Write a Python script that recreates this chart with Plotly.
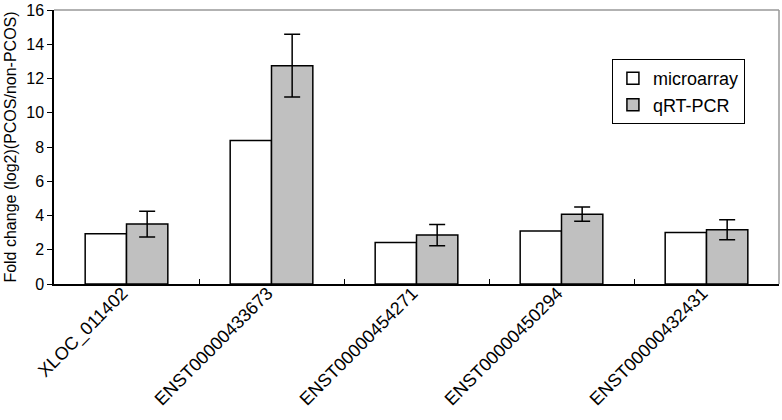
import plotly.graph_objects as go

categories = ["XLOC_011402", "ENST00000433673", "ENST00000454271", "ENST00000450294", "ENST00000432431"]
microarray = [2.94, 8.38, 2.43, 3.09, 3.01]
qrtpcr = [3.50, 12.75, 2.86, 4.08, 3.17]
qrtpcr_err = [0.75, 1.83, 0.62, 0.41, 0.58]

font_family = "Liberation Sans, Arial, sans-serif"

fig = go.Figure()
fig.add_trace(go.Bar(
    x=categories, y=microarray, name="microarray",
    marker=dict(color="white", line=dict(color="black", width=1.5)),
))
fig.add_trace(go.Bar(
    x=categories, y=qrtpcr, name="qRT-PCR",
    marker=dict(color="#c0c0c0", line=dict(color="black", width=1.5)),
    error_y=dict(type="data", array=qrtpcr_err, visible=True, color="black", thickness=1.5, width=8),
))

fig.update_layout(
    width=782, height=420,
    margin=dict(l=54, r=3, t=10, b=136, autoexpand=False),
    paper_bgcolor="white", plot_bgcolor="white",
    barmode="group", bargap=0.43, bargroupgap=0,
    font=dict(family=font_family, color="black", size=16),
    showlegend=True,
    legend=dict(
        x=0.953, y=0.821, xanchor="right", yanchor="top",
        bordercolor="black", borderwidth=1, bgcolor="white",
        font=dict(size=18, family=font_family),
        itemwidth=30,
    ),
    xaxis=dict(
        type="category", showline=True, linecolor="black", linewidth=1.5,
        ticks="inside", tickson="boundaries", ticklen=5, tickcolor="black",
        tickangle=-45, tickfont=dict(size=18), showgrid=False, zeroline=False,
        automargin=False, ticklabelstandoff=-10, ticklabelshift=-4,
    ),
    yaxis=dict(
        range=[0, 16], dtick=2, showline=True, linecolor="black", linewidth=1.5,
        ticks="outside", ticklen=5, tickcolor="black", showgrid=False, zeroline=False,
        tickfont=dict(size=16), automargin=False,
        title=dict(text="Fold change (log2)(PCOS/non-PCOS)", font=dict(size=16), standoff=6),
    ),
    shapes=[
        dict(type="line", xref="paper", yref="paper", x0=0, x1=1, y0=1, y1=1,
             line=dict(color="#999999", width=1.5)),
        dict(type="line", xref="paper", yref="paper", x0=1, x1=1, y0=0, y1=1,
             line=dict(color="#999999", width=1.5)),
    ],
)

fig.write_html(
    "out.html",
    config={"displayModeBar": False},
    post_script="document.body.style.margin='0px';document.body.style.overflow='hidden';",
)
